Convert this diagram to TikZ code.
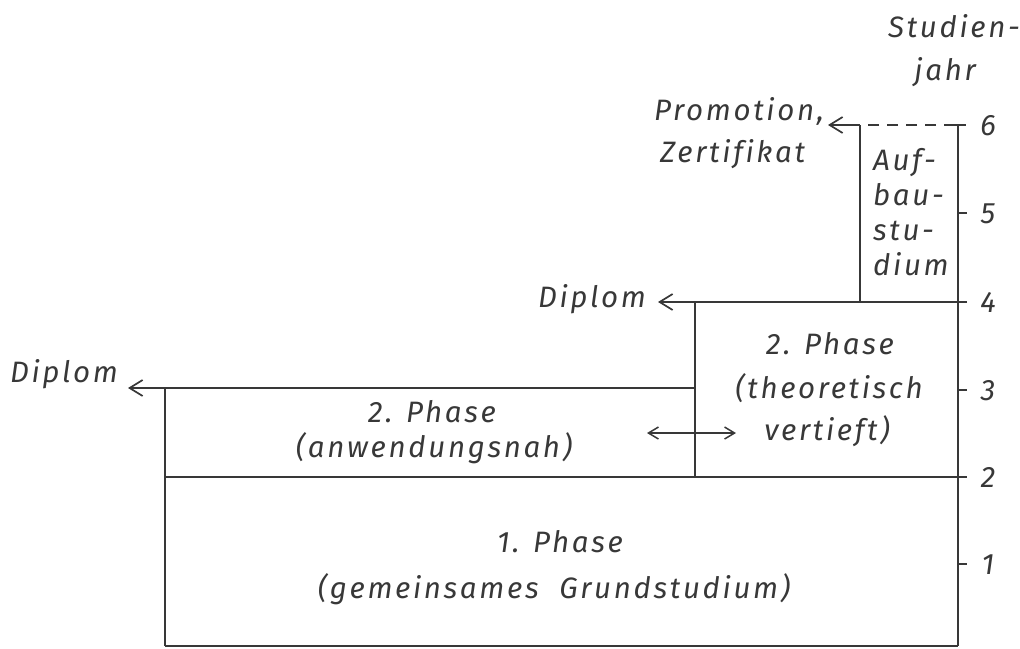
\documentclass[tikz,border=0pt]{standalone}
\usepackage{fontspec}
\setmainfont{Fira Sans}
\newfontfamily\labfont[LetterSpace=9,Ligatures=NoCommon]{Fira Sans}
\usetikzlibrary{arrows.meta}
\definecolor{ink}{HTML}{383838}
\begin{document}
\begin{tikzpicture}[x=1pt,y=-1pt,
  line/.style={line width=1.7pt, draw=ink},
  lab/.style={font=\labfont\itshape\fontsize{29.5}{36}\selectfont, text=ink, inner sep=0pt, anchor=base},
  tipl/.style={-{Straight Barb[length=13pt,width=16pt,line width=1.7pt]}},
  tipb/.style={{Straight Barb[length=10pt,width=12pt,line width=1.5pt]}-{Straight Barb[length=10pt,width=12pt,line width=1.5pt]}}]
\useasboundingbox (0,0) rectangle (1020,648);
% corners
\coordinate (L0) at (165,646);
\coordinate (R0) at (958,646);
\coordinate (L2) at (165,477);
\coordinate (M2) at (695,477);
\coordinate (R2) at (958,477);
\coordinate (L3) at (165,388);
\coordinate (M3) at (695,388);
\coordinate (M4) at (695,302);
\coordinate (A4) at (860,302);
\coordinate (R4) at (958,302);
\coordinate (A6) at (860,125);
\coordinate (R6) at (958,125);
\coordinate (T1) at (958,564);
\coordinate (T3) at (958,390);
\coordinate (T5) at (958,213);
% arrow ends
\coordinate (D1) at (128,388);
\coordinate (D2) at (658,302);
\coordinate (PZ) at (828,125);
\coordinate (BA) at (647,433);
\coordinate (BB) at (736,433);
% frame
\draw[line] (L0) -- (R0);
\draw[line] (L0) -- (L3);
\draw[line] (L2) -- ([xshift=9pt]R2);
\draw[line] (M2) -- (M4);
\draw[line,tipl] (M3) -- (L3) -- (D1);
\draw[line,tipl] ([xshift=9pt]R4) -- (M4) -- (D2);
\draw[line] (A4) -- (A6);
\draw[line,tipl] (A6) -- (PZ);
\draw[line,dash pattern=on 11pt off 8pt] ([xshift=-3pt]R6) -- (A6);
\draw[line] (R0) -- (R6);
\draw[line] ([xshift=-5pt]R6) -- ([xshift=8pt]R6);
\foreach \t in {T1,T3,T5} \draw[line] (\t) -- ([xshift=9pt]\t);
\draw[line,line width=1.5pt,tipb] (BA) -- (BB);
% axis numbers
\node[lab] (y1) at (988,574) {1};
\node[lab] (y2) at (988,487) {2};
\node[lab] (y3) at (988,400) {3};
\node[lab] (y4) at (988,312) {4};
\node[lab] (y5) at (988,223) {5};
\node[lab] (y6) at (988,135) {6};
\node[lab,anchor=base east] (st1) at (1020,37) {Studien-};
\node[lab,anchor=base east] (st2) at (976,80) {jahr};
% labels
\node[lab,anchor=base west] (pr1) at (654,120) {Promotion,};
\node[lab,anchor=base west] (pr2) at (660,162) {Zertifikat};
\node[lab,anchor=base west] (au1) at (873,170) {Auf-};
\node[lab,anchor=base west] (au2) at (873,205) {bau-};
\node[lab,anchor=base west] (au3) at (873,240) {stu-};
\node[lab,anchor=base west] (au4) at (873,275) {dium};
\node[lab] (dp2) at (592,307) {Diplom};
\node[lab] (dp1) at (64,382) {Diplom};
\node[lab] (tv1) at (830,354) {2. Phase};
\node[lab] (tv2) at (829,398) {(theoretisch};
\node[lab] (tv3) at (827,440) {vertieft)};
\node[lab] (an1) at (432,422) {2. Phase};
\node[lab] (an2) at (434,457) {(anwendungsnah)};
\node[lab] (gp1) at (560,552) {1. Phase};
\node[lab] (gp2) at (554,598) {(gemeinsames\hspace{0.7em}Grundstudium)};
\end{tikzpicture}
\end{document}
